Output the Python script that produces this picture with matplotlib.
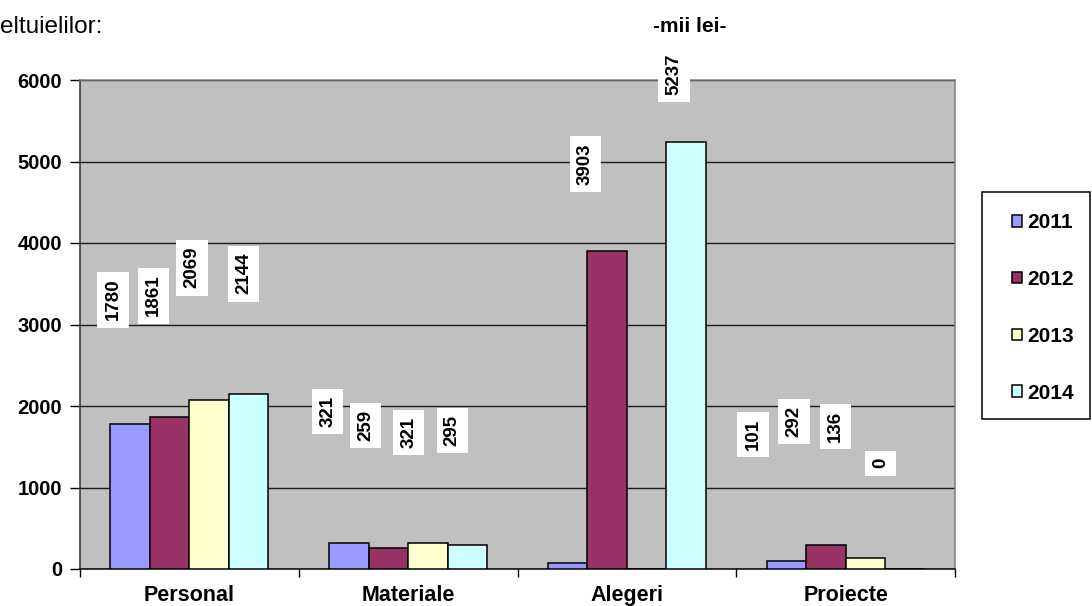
import numpy as np
import matplotlib
matplotlib.use('Agg')
import matplotlib.pyplot as plt
from matplotlib.patches import Rectangle, Patch

plt.rcParams['font.family'] = ['Liberation Sans', 'DejaVu Sans']

categorii = ['Personal', 'Materiale', 'Alegeri', 'Proiecte']
ani = ['2011', '2012', '2013', '2014']
v2011 = [1780, 321, 70, 101]
v2012 = [1861, 259, 3903, 292]
v2013 = [2069, 321, 0, 136]
v2014 = [2144, 295, 5237, 0]
valori = [v2011, v2012, v2013, v2014]
culori = ['#9999FF', '#993366', '#FFFFCC', '#CCFFFF']

# eticheta afisata sau nu (Alegeri 2011 si 2013 fara eticheta)
arata = [[True, True, False, True],
         [True, True, True, True],
         [True, True, False, True],
         [True, True, True, True]]
# pozitiile etichetelor (mutate manual in original)
et_dx = [[-0.078, -0.096, 0, -0.153],
         [-0.073, -0.105, -0.10, -0.146],
         [-0.078, -0.087, 0, -0.137],
         [-0.023, -0.069, -0.055, -0.11]]
et_y = [[3305, 1934, 0, 1652],
        [3354, 1763, 4969, 1811],
        [3697, 1677, 0, 1750],
        [3623, 1701, 6070, 1297]]

W, H = 1092, 606
fig = plt.figure(figsize=(W / 100, H / 100), dpi=100)
ax = fig.add_axes([80 / W, 1 - 569 / H, (955 - 80) / W, (569 - 80) / H])
ax.set_facecolor('#C0C0C0')

x = np.arange(len(categorii))
w = 0.1806
for j in range(4):
    ax.bar(x + (j - 1.5) * w, valori[j], w, color=culori[j], edgecolor='black',
           linewidth=1.1, zorder=3)
    for i in range(4):
        if not arata[j][i]:
            continue
        ax.text(x[i] + (j - 1.5) * w + et_dx[j][i], et_y[j][i], str(valori[j][i]),
                rotation=90, ha='center', va='center', fontsize=13.5,
                fontweight='bold', zorder=5, clip_on=False,
                bbox=dict(boxstyle='square,pad=0.38', fc='white', ec='none'))

ax.set_xlim(-0.5, 3.5)
ax.set_ylim(0, 6000)
ax.set_yticks(range(0, 6001, 1000))
ax.yaxis.grid(True, color='#1a1a1a', linewidth=1.0, zorder=1)
ax.set_axisbelow(True)
ax.set_xticks(x)
ax.set_xticklabels(categorii, fontsize=15.5, fontweight='bold')
ax.set_xticks(np.arange(-0.5, 4, 1), minor=True)
ax.tick_params(axis='x', which='major', length=0, pad=11.5)
ax.tick_params(axis='x', which='minor', length=6, width=1, direction='out')
ax.tick_params(axis='y', length=7, width=1, pad=6, labelsize=14.5)
for t in ax.get_yticklabels():
    t.set_fontweight('bold')

ax.spines['left'].set_color('#333333')
ax.spines['bottom'].set_color('black')
ax.spines['top'].set_color('#808080')
ax.spines['right'].set_color('#808080')
for s in ax.spines.values():
    s.set_linewidth(1.1)

# legenda
fig.patches.append(Rectangle((982 / W, 1 - 419 / H), (1090 - 982) / W, (419 - 192) / H,
                             transform=fig.transFigure, fc='white', ec='black', lw=1.1))
handles = [Patch(facecolor=c, edgecolor='black', linewidth=1.1) for c in culori]
leg = fig.legend(handles, ani, loc='upper left', bbox_to_anchor=(1012 / W, 1 - 213 / H),
                 frameon=False, prop=dict(size=15, weight='bold'),
                 handlelength=0.5, handleheight=0.5, handletextpad=0.25,
                 labelspacing=1.82, borderpad=0, borderaxespad=0)

fig.text(0, 1 - 27 / H, 'eltuielilor:', fontsize=17.5, va='center', ha='left')
fig.text(690 / W, 1 - 27 / H, '-mii lei-', fontsize=15, fontweight='bold',
         va='center', ha='center')

fig.savefig('out.png', dpi=100)
